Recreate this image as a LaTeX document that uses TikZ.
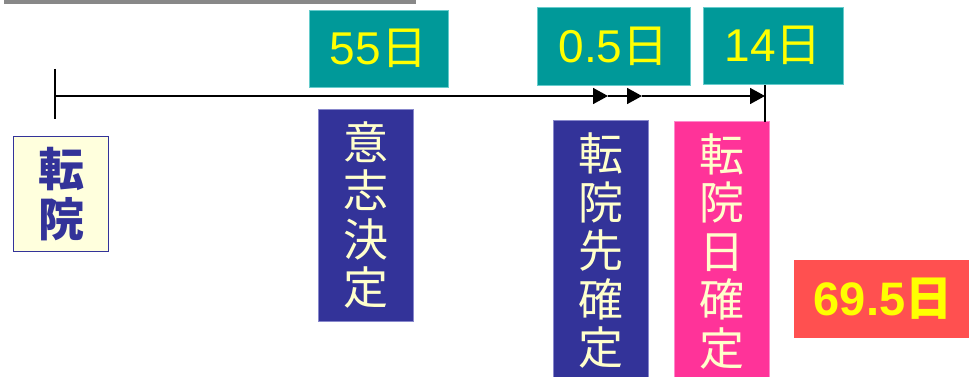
\documentclass[tikz,border=0pt]{standalone}
\usepackage{fontspec}
\setmainfont{Liberation Sans}
\newfontfamily\cjk{Noto Sans CJK JP}
\usetikzlibrary{arrows.meta}
\definecolor{tealbox}{HTML}{009999}
\definecolor{tealedge}{HTML}{66CCCC}
\definecolor{navy}{HTML}{333399}
\definecolor{navyedge}{HTML}{8888CC}
\definecolor{pinkbox}{HTML}{FF3399}
\definecolor{pinkedge}{HTML}{FF88CC}
\definecolor{redbox}{HTML}{FF5050}
\definecolor{cream}{HTML}{FFFFCC}
\definecolor{paleyellow}{HTML}{FFFFDD}
\definecolor{yel}{HTML}{FFFF00}
\definecolor{bargray}{HTML}{888888}
\tikzset{
  daysbox/.style={fill=tealbox, draw=tealedge, line width=0.6pt, inner sep=0pt,
    text=yel, font=\fontsize{46}{50}\selectfont},
  vbox/.style={inner sep=0pt, minimum width=95pt, align=center, text=cream,
    font=\cjk\fontsize{45}{48.5}\selectfont},
  tl/.style={line width=1.6pt},
  tip/.style={-{Triangle[length=15pt,width=16pt]}}
}
\begin{document}
\begin{tikzpicture}[x=1pt,y=-1pt]
\useasboundingbox (0,0) rectangle (969,377);
\clip (0,0) rectangle (969,377);
% top gray bar
\fill[bargray] (4,-2) rectangle (416,4.5);
% day boxes
\node[daysbox, minimum width=139pt, minimum height=77pt] (d55) at (378.5,48.5) {55{\cjk 日}};
\node[daysbox, minimum width=153pt, minimum height=78pt] (d05) at (613.5,46) {0.5{\cjk 日}};
\node[daysbox, minimum width=140pt, minimum height=77pt] (d14) at (773,45.5) {14{\cjk 日}};
% vertical boxes
\node[vbox, fill=navy, draw=navyedge, line width=0.6pt, minimum height=212pt] (ishi) at (365.5,215) {意\\志\\決\\定};
\node[vbox, fill=navy, draw=navyedge, line width=0.6pt, minimum height=262pt] (saki) at (600.5,251) {転\\院\\先\\確\\定};
\node[vbox, fill=pinkbox, draw=pinkedge, line width=0.6pt, minimum height=261pt] (bi) at (721.5,251.5) {転\\院\\日\\確\\定};
% start box
\node[fill=paleyellow, draw=navy, line width=1.5pt, minimum width=95pt, minimum height=115pt,
  inner sep=0pt, align=center, text=navy, font=\cjk\bfseries\fontsize{46}{50}\selectfont] (tenin) at (61,194) {転\\院};
% total box
\node[fill=redbox, inner sep=0pt, minimum width=178pt, minimum height=78pt, text=yel,
  font=\bfseries\fontsize{47}{50}\selectfont] (total) at (883,299) {69.5{\cjk\bfseries 日}};
% timeline
\coordinate (t0) at (55,96);
\coordinate (tickt) at (55,69);
\coordinate (tickb) at (55,119);
\coordinate (a1) at (608,96);
\coordinate (a2) at (642,96);
\coordinate (a3) at (765,96);
\coordinate (vtop) at (765,85);
\coordinate (vbot) at (765,122);
\draw[line width=1.4pt] (tickt) -- (tickb);
\draw[tl, tip] (t0) -- (a1);
\draw[tl, tip] (a1) -- (a2);
\draw[tl, tip] (a2) -- (a3);
\draw[line width=1.4pt] (vtop) -- (vbot);
\end{tikzpicture}
\end{document}
